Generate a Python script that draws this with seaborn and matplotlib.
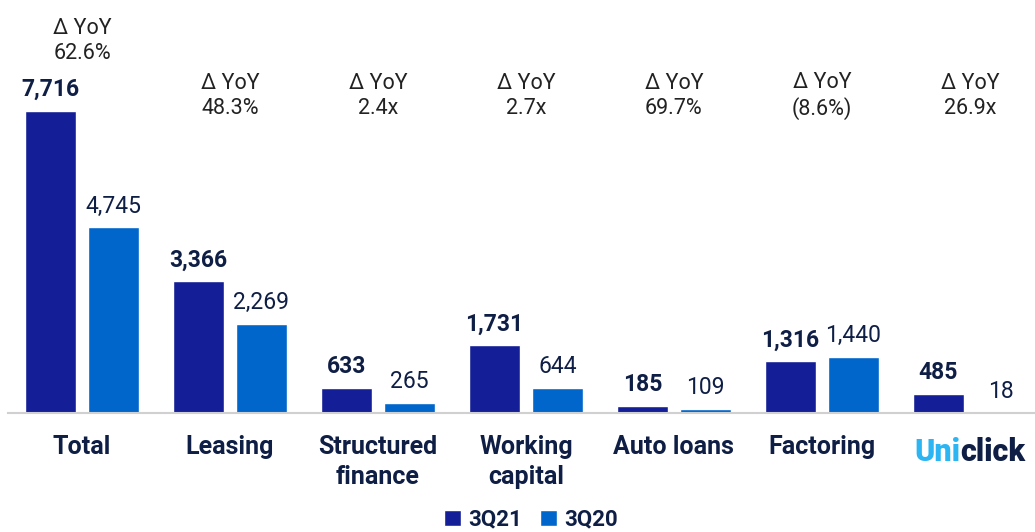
import pandas as pd
import matplotlib.pyplot as plt
import seaborn as sns

# values
categories = ['Total', 'Leasing', 'Structured\nfinance', 'Working\ncapital',
              'Auto loans', 'Factoring', 'Uniclick']
val_3q21 = [7716, 3366, 633, 1731, 185, 1316, 485]
val_3q20 = [4745, 2269, 265, 644, 109, 1440, 18]
yoy = ['62.6%', '48.3%', '2.4x', '2.7x', '69.7%', '(8.6%)', '26.9x']
series = ['3Q21', '3Q20']

DARK = '#141e96'
BLUE = '#0066cc'
TEXT = '#0f1e45'
UNI = '#2bb5f3'


def main():
    df = pd.DataFrame({
        'category': categories * 2,
        'value': val_3q21 + val_3q20,
        'period': [series[0]] * len(categories) + [series[1]] * len(categories),
    })

    sns.set_theme(style='white')
    plt.rcParams['font.family'] = ['Roboto', 'DejaVu Sans']

    fig = plt.figure(figsize=(10.35, 5.32), dpi=100)
    ax = fig.add_axes([8 / 1035, 119 / 532, 1 - 8 / 1035, 413 / 532])

    sns.barplot(data=df, x='category', y='value', hue='period',
                order=categories, hue_order=series,
                palette=[DARK, BLUE], width=0.85, gap=0.2,
                saturation=1, ax=ax, legend=True)

    ax.set_xlim(-0.5, 6.44)
    ax.set_ylim(0, 10550)

    # value labels on top of bars
    for cont, weight in zip(ax.containers, ['bold', 'normal']):
        labels = [f'{b.get_height():,.0f}' for b in cont]
        ax.bar_label(cont, labels=labels, padding=7, fontsize=16.5,
                     fontweight=weight, color=TEXT)

    # delta YoY annotations
    for i, txt in enumerate(yoy):
        y = 9500 if i == 0 else 8100
        ax.text(i, y, f'\u0394 YoY\n{txt}', ha='center', va='center',
                fontsize=15.5, color='#222222', linespacing=1.25)

    # category tick labels
    ax.set_xticks(range(len(categories)))
    ax.set_xticklabels(categories[:-1] + [''], fontsize=18, fontweight='bold',
                       color=TEXT, linespacing=1.3)
    ax.tick_params(axis='x', length=0, pad=16)
    ax.set_yticks([])
    ax.set_xlabel('')
    ax.set_ylabel('')

    # uniclick logo-like label
    t1 = ax.annotate('Uni', xy=(6, 0), xycoords='data', xytext=(-40, -17),
                     textcoords='offset points', ha='left', va='top',
                     fontsize=22, fontweight='heavy', color=UNI)
    ax.annotate('click', xy=(1, 0), xycoords=t1, xytext=(0, 0),
                textcoords='offset points', ha='left', va='bottom',
                fontsize=22, fontweight='heavy', color=TEXT)

    for side in ['top', 'right', 'left']:
        ax.spines[side].set_visible(False)
    ax.spines['bottom'].set_color('#d0d0d0')
    ax.spines['bottom'].set_linewidth(1.5)

    ax.legend(loc='lower center', bbox_to_anchor=(0.513, -0.035),
              bbox_transform=fig.transFigure, ncol=2, frameon=False,
              handlelength=0.75, handleheight=0.75, handletextpad=0.35,
              columnspacing=0.8, prop={'size': 16, 'weight': 'bold'},
              labelcolor=TEXT)

    fig.savefig('out.png', dpi=100)


if __name__ == '__main__':
    main()
